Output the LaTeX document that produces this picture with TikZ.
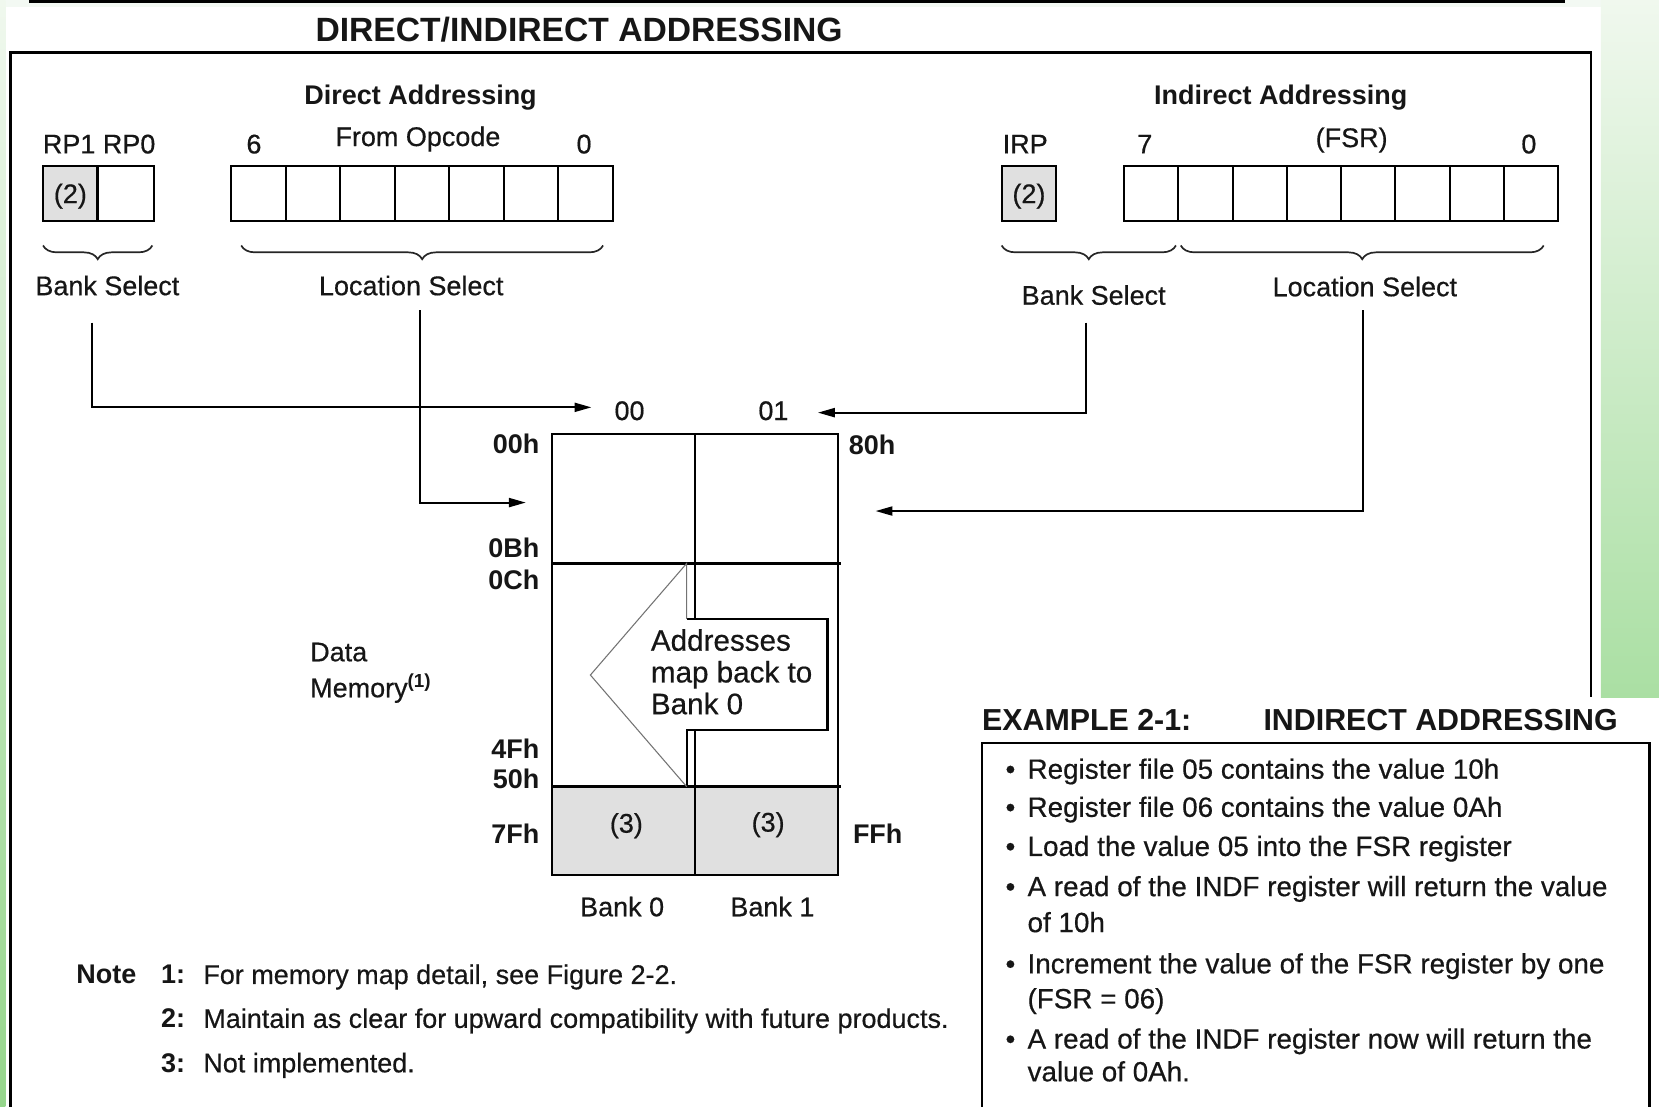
\documentclass[tikz,border=0pt]{standalone}
\usepackage{fontspec}
\setmainfont{Liberation Sans}[UprightFeatures={FakeBold=0.5}]
\usetikzlibrary{arrows.meta,decorations.pathreplacing}
\definecolor{txt}{RGB}{22,22,22}
\definecolor{cellgray}{RGB}{224,224,224}
\definecolor{greenlight}{RGB}{240,248,238}
\definecolor{greendark}{RGB}{170,223,163}
\definecolor{greenleft}{RGB}{150,214,140}
\definecolor{topband}{RGB}{243,249,243}
\newcommand\szlbl{\fontsize{25.5}{30}\selectfont}
\newcommand\szcall{\fontsize{28}{30}\selectfont}
\newcommand\szex{\fontsize{26.3}{30}\selectfont}
\newcommand\szexh{\fontsize{28.7}{32}\selectfont\bfseries}
\newcommand\sztitle{\fontsize{31.8}{36}\selectfont\bfseries}
\tikzset{
  lbl/.style={font=\szlbl, text=txt, inner sep=0pt, anchor=base},
  lblb/.style={lbl, font=\szlbl\bfseries},
  lw/.style={lbl, anchor=base west},
  lbw/.style={lblb, anchor=base west},
  lbe/.style={lblb, anchor=base east},
  callout/.style={lbl, font=\szcall, anchor=base west},
  extxt/.style={lbl, font=\szex, anchor=base west},
  exhead/.style={lbl, font=\szexh, anchor=base west},
  reg/.style={line width=2pt, draw=black},
  mem/.style={line width=2.2pt, draw=black},
  brc/.style={decorate, decoration={brace, amplitude=13pt}, line width=1.6pt, draw=black!85},
  conn/.style={line width=2pt, draw=black, -{Triangle[length=16pt,width=8.5pt]}},
}
\begin{document}
\begin{tikzpicture}[x=1pt,y=-1pt]
\useasboundingbox (0,0) rectangle (1568,1046);
\fill[white] (0,0) rectangle (1568,1046);
% background decorations
\fill[topband] (0,0) rectangle (1568,7);
\shade[top color=greenlight, bottom color=greenleft] (0,0) rectangle (5,1046);
\shade[top color=greenlight, bottom color=greendark] (1513,0) rectangle (1568,659);
\fill[black] (27,0) rectangle (1479,3);
% frame
\draw[line width=2.2pt] (10,1046) -- (10,49.5) -- (1504,49.5) -- (1504,659);
% title
\node[lbl, font=\sztitle, anchor=base west] (title) at (298,39) {DIRECT/INDIRECT ADDRESSING};

% ---------- Direct addressing ----------
\node[lblb] (dhead) at (397.5,99) {Direct Addressing};
\node[lbl] (rp) at (93.7,145) {RP1 RP0};
\node[lbl] (d6) at (240,145) {6};
\node[lbl] (dop) at (395,138) {From Opcode};
\node[lbl] (d0) at (552,145) {0};
\fill[cellgray] (40.7,157) rectangle (92.2,208.6);
\draw[reg] (40.7,157) rectangle (145.4,208.6);
\draw[reg] (92.2,157) -- (92.2,208.6);
\node[lbl] (rp2) at (66.5,192) {(2)};
\draw[reg] (218.7,157) rectangle (579,208.6);
\foreach \i in {1,...,6} \draw[reg] (218.7+\i*51.47,157) -- ++(0,51.6);
\draw[brc] (144,232) -- (40.7,232);
\draw[brc] (570,232) -- (228,232);
\node[lbl] (dbank) at (101.5,279) {Bank Select};
\node[lbl] (dloc) at (388.7,279) {Location Select};

% ---------- Indirect addressing ----------
\node[lblb] (ihead) at (1210.5,99) {Indirect Addressing};
\node[lbl] (irp) at (969,145) {IRP};
\node[lbl] (i7) at (1082,145) {7};
\node[lbl] (ifsr) at (1277.5,139) {(FSR)};
\node[lbl] (i0) at (1445,145) {0};
\fill[cellgray] (946.7,157) rectangle (998.3,208.6);
\draw[reg] (946.7,157) rectangle (998.3,208.6);
\node[lbl] (irp2) at (972.5,192) {(2)};
\draw[reg] (1062.4,157) rectangle (1472.7,208.6);
\foreach \i in {1,...,7} \draw[reg] (1062.4+\i*51.29,157) -- ++(0,51.6);
\draw[brc] (1111.4,232) -- (946.7,232);
\draw[brc] (1459,232) -- (1116,232);
\node[lbl] (ibank) at (1033.7,288) {Bank Select};
\node[lbl] (iloc) at (1290,280) {Location Select};

% ---------- Data memory ----------
\fill[cellgray] (522,743.5) rectangle (792,827);
\draw[mem] (522,410.5) rectangle (792,827);
\draw[mem] (522,532.5) -- (794.5,532.5);
\draw[mem] (522,743.5) -- (794.5,743.5);
\draw[mem] (657,410.5) -- (657,585);
\draw[mem] (657,690) -- (657,827);
% callout arrow
\draw[mem, fill=white] (649,585) -- (782,585) -- (782,690) -- (649,690) -- (649,743.5);
\draw[line width=1pt, draw=black!55] (649,743.5) -- (558,638) -- (649,532.5) -- (649,585);
\node[callout] (ca1) at (615,615) {Addresses};
\node[callout] (ca2) at (615,645) {map back to};
\node[callout] (ca3) at (615,675) {Bank 0};

\node[lbl] (b00) at (595,397) {00};
\node[lbl] (b01) at (731,397) {01};
\node[lbe] (a00) at (510,429) {00h};
\node[lbe] (a0b) at (510,527) {0Bh};
\node[lbe] (a0c) at (510,557) {0Ch};
\node[lbe] (a4f) at (510,716.5) {4Fh};
\node[lbe] (a50) at (510,745.5) {50h};
\node[lbe] (a7f) at (510,797) {7Fh};
\node[lbw] (a80) at (802,430) {80h};
\node[lbw] (aff) at (806,797) {FFh};
\node[lbl] (n3a) at (592,787) {(3)};
\node[lbl] (n3b) at (726,786) {(3)};
\node[lbl] (bk0) at (588,866) {Bank 0};
\node[lbl] (bk1) at (730,866) {Bank 1};
\node[lw] (data) at (293,625) {Data};
\node[lw] (memo) at (293,659) {Memory\textsuperscript{\bfseries(1)}};

% ---------- connectors ----------
\coordinate (dbsA) at (87,305);   \coordinate (dbsB) at (559,385);
\coordinate (dlsA) at (397,293);  \coordinate (dlsB) at (497,475);
\coordinate (ibsA) at (1026,305); \coordinate (ibsB) at (773,390);
\coordinate (ilsA) at (1288.5,293); \coordinate (ilsB) at (827.5,483);
\draw[conn] (dbsA) |- (dbsB);
\draw[conn] (dlsA) |- (dlsB);
\draw[conn] (ibsA) |- (ibsB);
\draw[conn] (ilsA) |- (ilsB);

% ---------- notes ----------
\node[lbw] (note) at (72,930) {Note};
\node[lbw] (n1) at (152,930) {1:};
\node[lw] (n1t) at (192,930) {For memory map detail, see Figure 2-2.};
\node[lbw] (n2) at (152,971.5) {2:};
\node[lw] (n2t) at (192,971.5) {Maintain as clear for upward compatibility with future products.};
\node[lbw] (n3) at (152,1013.5) {3:};
\node[lw] (n3t) at (192,1013.5) {Not implemented.};

% ---------- example ----------
\node[exhead] (exa) at (928,690) {EXAMPLE 2-1:};
\node[exhead] (exb) at (1194,690) {INDIRECT ADDRESSING};
\draw[line width=2pt] (928,1046) -- (928,702) -- (1559,702) -- (1559,1046);
\foreach \yy/\t/\b in {736/{Register file 05 contains the value 10h}/1,
                        772/{Register file 06 contains the value 0Ah}/1,
                        809/{Load the value 05 into the FSR register}/1,
                        847/{A read of the INDF register will return the value}/1,
                        881/{of 10h}/0,
                        920/{Increment the value of the FSR register by one}/1,
                        953/{(FSR = 06)}/0,
                        991/{A read of the INDF register now will return the}/1,
                        1022/{value of 0Ah.}/0} {
  \node[extxt] at (971,\yy) {\t};
  \ifnum\b=1 \node[extxt, anchor=base] at (955,\yy) {•}; \fi
}
\end{tikzpicture}
\end{document}
